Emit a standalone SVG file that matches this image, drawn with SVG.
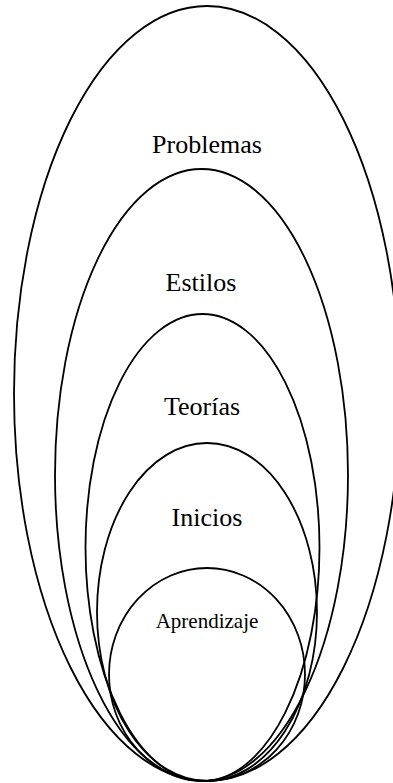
<svg xmlns="http://www.w3.org/2000/svg" width="393" height="783" viewBox="0 0 393 783">
<style>
.e{fill:none;stroke:#000;stroke-width:1.8}
.t{font-family:"Liberation Serif","Times New Roman",serif;font-size:26px;fill:#000;text-anchor:middle}
.s{font-size:21px}
</style>
<rect width="393" height="783" fill="#fff"/>
<g id="problemas">
<ellipse class="e" cx="207" cy="393.5" rx="193" ry="387.5"/>
<text class="t" x="207" y="153">Problemas</text>
</g>
<g id="estilos">
<ellipse class="e" cx="201.5" cy="475" rx="146.5" ry="306"/>
<text class="t" x="201" y="291">Estilos</text>
</g>
<g id="teorias">
<ellipse class="e" cx="202.5" cy="547.5" rx="117" ry="233.5"/>
<text class="t" x="202" y="415">Teorías</text>
</g>
<g id="inicios">
<ellipse class="e" cx="207" cy="612" rx="110" ry="169"/>
<text class="t" x="207" y="526">Inicios</text>
</g>
<g id="aprendizaje">
<ellipse class="e" cx="207" cy="674.5" rx="98" ry="106.5"/>
<text class="t s" x="207" y="628">Aprendizaje</text>
</g>
<g id="connectors"/>
</svg>
